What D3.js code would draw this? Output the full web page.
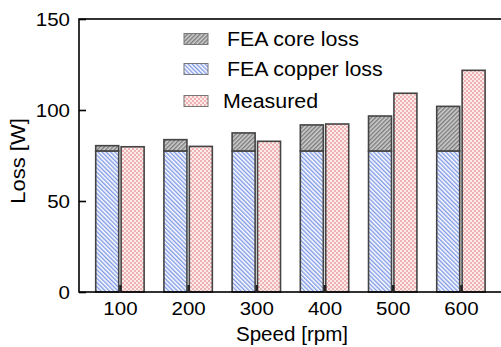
<!DOCTYPE html>
<html lang="en">
<head>
  <meta charset="UTF-8">
  <title>Loss vs speed</title>
  <script src="https://d3js.org/d3.v7.min.js"></script>
  <style>
    body { margin: 0; background: #fff; }
    text { font-family: "Liberation Sans", Arial, Helvetica, sans-serif; fill: #000; }
  </style>
</head>
<body>
<div id="chart"></div>
<script>
  // data
  var speeds = [100, 200, 300, 400, 500, 600];
  var copperLoss = [77.5, 77.5, 77.5, 77.5, 77.5, 77.5];
  var coreLoss = [2.9, 6.2, 9.9, 14.3, 19.2, 24.5];
  var measured = [79.8, 80.0, 82.8, 92.3, 109.2, 121.8];
  var yTicks = [0, 50, 100, 150];
  var legendLabels = [" FEA core loss", " FEA copper loss", "Measured"];

  var width = 501, height = 347;
  var margin = { top: 19, left: 79, bottom: 55 };

  var svg = d3.select("#chart")
    .append("svg")
    .attr("width", width)
    .attr("height", height);

  // hatch patterns
  var defs = svg.append("defs");

  var pCore = defs.append("pattern")
    .attr("id", "pcore")
    .attr("patternUnits", "userSpaceOnUse")
    .attr("width", 3).attr("height", 3)
    .attr("patternTransform", "rotate(45)");
  pCore.append("rect").attr("width", 3).attr("height", 3).attr("fill", "#cfcfcf");
  pCore.append("rect").attr("width", 1.4).attr("height", 3).attr("fill", "#7a7a7a");

  var pCopper = defs.append("pattern")
    .attr("id", "pcopper")
    .attr("patternUnits", "userSpaceOnUse")
    .attr("width", 3).attr("height", 3)
    .attr("patternTransform", "rotate(-45)");
  pCopper.append("rect").attr("width", 3).attr("height", 3).attr("fill", "#ffffff");
  pCopper.append("rect").attr("width", 1.4).attr("height", 3).attr("fill", "#7f99e6");

  var pMeas = defs.append("pattern")
    .attr("id", "pmeas")
    .attr("patternUnits", "userSpaceOnUse")
    .attr("width", 4).attr("height", 4);
  pMeas.append("rect").attr("width", 4).attr("height", 4).attr("fill", "#fcecec");
  pMeas.append("rect").attr("width", 2).attr("height", 2).attr("fill", "#eeb2b2");
  pMeas.append("rect").attr("x", 2).attr("y", 2).attr("width", 2).attr("height", 2).attr("fill", "#eeb2b2");

  // scales
  var x = d3.scaleLinear()
    .domain([40, 660])
    .range([margin.left, margin.left + 620 * 0.682]);

  var y = d3.scaleLinear()
    .domain([0, 150])
    .range([height - margin.bottom, margin.top]);

  var barW = 23;
  var gap = 1.2;
  var rows = speeds.map(function(s, i) {
    return { s: s, cu: copperLoss[i], core: coreLoss[i], meas: measured[i] };
  });

  var bars = svg.append("g")
    .attr("stroke", "#444")
    .attr("stroke-width", 1.6);

  // copper loss (bottom of the FEA stack)
  bars.selectAll(".cu")
    .data(rows)
    .enter()
    .append("rect")
    .attr("x", function(d) { return x(d.s) - gap - barW; })
    .attr("y", function(d) { return y(d.cu); })
    .attr("width", barW)
    .attr("height", function(d) { return y(0) - y(d.cu); })
    .attr("fill", "url(#pcopper)");

  // core loss stacked on top
  bars.selectAll(".core")
    .data(rows)
    .enter()
    .append("rect")
    .attr("x", function(d) { return x(d.s) - gap - barW; })
    .attr("y", function(d) { return y(d.cu + d.core); })
    .attr("width", barW)
    .attr("height", function(d) { return y(d.cu) - y(d.cu + d.core); })
    .attr("fill", "url(#pcore)");

  // measured
  bars.selectAll(".meas")
    .data(rows)
    .enter()
    .append("rect")
    .attr("x", function(d) { return x(d.s) + gap; })
    .attr("y", function(d) { return y(d.meas); })
    .attr("width", barW)
    .attr("height", function(d) { return y(0) - y(d.meas); })
    .attr("fill", "url(#pmeas)");

  // frame
  svg.append("rect")
    .attr("x", x.range()[0])
    .attr("y", y.range()[1])
    .attr("width", x.range()[1] - x.range()[0])
    .attr("height", y.range()[0] - y.range()[1])
    .attr("fill", "none")
    .attr("stroke", "#000")
    .attr("stroke-width", 1.6);

  // x axis, ticks pointing in
  var gx = svg.append("g")
    .attr("transform", "translate(0," + y(0) + ")")
    .call(d3.axisBottom(x).tickValues(speeds).tickSizeInner(-7).tickSizeOuter(0).tickPadding(10));
  gx.select(".domain").remove();
  gx.selectAll("line").attr("stroke", "#222").attr("stroke-width", 2.5);
  gx.selectAll("text")
    .attr("font-size", 19)
    .attr("font-family", "Liberation Sans, Arial, sans-serif")
    .attr("fill", "#000")
    .attr("dy", "0.71em")
    .attr("transform", "scale(1.08,1)")
    .attr("x", 0);

  // y axis
  var gy = svg.append("g")
    .attr("transform", "translate(" + x.range()[0] + ",0)")
    .call(d3.axisLeft(y).tickValues(yTicks).tickSizeInner(-7).tickSizeOuter(0));
  gy.select(".domain").remove();
  gy.selectAll("line").attr("stroke", "#000").attr("stroke-width", 1.6);
  gy.selectAll("text")
    .attr("font-size", 19)
    .attr("font-family", "Liberation Sans, Arial, sans-serif")
    .attr("fill", "#000")
    .attr("x", 0)
    .attr("transform", "translate(-9,0) scale(1.08,1)");

  // axis titles
  svg.append("text")
    .attr("transform", "translate(292,341) scale(1.03,1)")
    .attr("text-anchor", "middle")
    .attr("font-size", 20)
    .text("Speed [rpm]");

  svg.append("text")
    .attr("transform", "translate(25,161) rotate(-90) scale(1.1,1)")
    .attr("text-anchor", "middle")
    .attr("font-size", 20)
    .text("Loss [W]");

  // legend
  var legendFills = ["url(#pcore)", "url(#pcopper)", "url(#pmeas)"];
  var legendY = [39, 69, 101];
  var legend = svg.append("g");
  legendLabels.forEach(function(lab, i) {
    legend.append("rect")
      .attr("x", 184)
      .attr("y", legendY[i] - 5.5)
      .attr("width", 24)
      .attr("height", 11)
      .attr("fill", legendFills[i])
      .attr("stroke", "#777")
      .attr("stroke-width", 1);
    legend.append("text")
      .attr("transform", "translate(" + (lab[0] === " " ? 221 : 223) + "," + (legendY[i] + 7) + ") scale(1.07,1)")
      .attr("font-size", 20)
      .attr("xml:space", "preserve")
      .style("white-space", "pre")
      .text(lab);
  });
</script>
</body>
</html>
